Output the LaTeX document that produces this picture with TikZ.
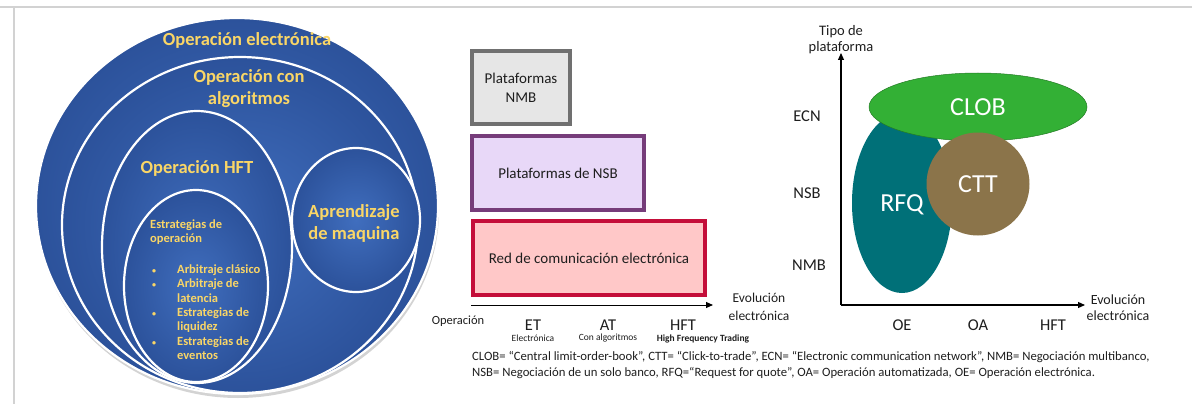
\documentclass[tikz,border=0pt]{standalone}
\usepackage{fontspec}
\setmainfont{Carlito}
\usetikzlibrary{shapes.geometric,shadows,arrows.meta}
\definecolor{blueD}{RGB}{44,82,155}
\definecolor{blueL}{RGB}{64,110,190}
\definecolor{yel}{RGB}{250,214,102}
\definecolor{grayB}{RGB}{112,112,112}
\definecolor{grayF}{RGB}{230,230,230}
\definecolor{purB}{RGB}{118,60,122}
\definecolor{purF}{RGB}{232,216,248}
\definecolor{redB}{RGB}{196,14,58}
\definecolor{redF}{RGB}{255,200,200}
\definecolor{teal2}{RGB}{0,112,120}
\definecolor{green2}{RGB}{51,176,53}
\definecolor{brown2}{RGB}{139,116,74}
\definecolor{txt}{RGB}{30,30,30}
\tikzset{
  bluell/.style={ellipse, draw=white, line width=2.2pt, inner sep=0pt,
     inner color=blueL, outer color=blueD},
  ytext/.style={text=yel, font=\bfseries\fontsize{18.5}{22}\selectfont, align=center, inner sep=0pt},
  platbox/.style={rectangle, line width=4pt, inner sep=0pt, align=center,
     font=\fontsize{15}{19}\selectfont, text=txt},
  lbl/.style={inner sep=0pt, align=center, text=txt},
  blob/.style={ellipse, inner sep=0pt, text=white, font=\fontsize{26}{30}\selectfont},
  axisarrow/.style={-{Triangle[length=7pt,width=6pt]}, line width=1.1pt, black},
}
\newcommand{\smbul}{\hspace{2pt}{\fontsize{8}{8}\selectfont\textbullet}}
\begin{document}
\begin{tikzpicture}[x=1pt,y=-1pt]
\useasboundingbox (0,0) rectangle (1192,404);
% frame lines
\coordinate (tl) at (0,7); \coordinate (tr) at (1192,7);
\coordinate (vl) at (14,8); \coordinate (vb) at (14,404);
\draw[line width=1.5pt, gray!35] (tl) -- (tr);
\draw[line width=1.5pt, gray!35] (vl) -- (vb);

% ---------- Left: nested ellipses ----------
\node[bluell, minimum width=402pt, minimum height=376pt,
      drop shadow={shadow xshift=1pt, shadow yshift=-4pt, opacity=0.35}] (eOE) at (237,206) {};
\node[bluell, minimum width=356pt, minimum height=336pt] (eOA) at (240,225) {};
\node[bluell, minimum width=190pt, minimum height=272pt] (eHFT) at (197,247) {};
\node[bluell, minimum width=144pt, minimum height=192pt] (eEst) at (196,286) {};
\node[bluell, minimum width=128pt, minimum height=144pt] (eAp) at (356,220) {};

\node[ytext] (tOE) at (247,40) {Operación electrónica};
\node[ytext] (tOA) at (249,89) {Operación con\\algoritmos};
\node[ytext] (tHFT) at (197,168) {Operación HFT};
\node[ytext] (tAp) at (354,223.5) {Aprendizaje\\de maquina};
\node[anchor=north west, inner sep=0pt, text=yel,
      font=\bfseries\fontsize{12.5}{14.3}\selectfont] (tEst) at (150,218) {%
\begin{tabular}{@{}p{27pt}@{}l@{}}
\multicolumn{2}{@{}l@{}}{Estrategias de}\\
\multicolumn{2}{@{}l@{}}{operación}\\[16.7pt]
\smbul & Arbitraje clásico\\
\smbul & Arbitraje de\\
 & latencia\\
\smbul & Estrategias de\\
 & liquidez\\
\smbul & Estrategias de\\
 & eventos
\end{tabular}};

% ---------- Middle: platforms ----------
\node[platbox, draw=grayB, fill=grayF, minimum width=98pt, minimum height=73pt] (bNMB) at (521,87.5) {Plataformas\\NMB};
\node[platbox, draw=purB, fill=purF, minimum width=172pt, minimum height=74pt] (bNSB) at (558,173) {Plataformas de NSB};
\node[platbox, draw=redB, fill=redF, minimum width=232pt, minimum height=74pt] (bECN) at (589,258) {Red de comunicación electrónica};

\coordinate (m0) at (471,305);
\coordinate (m1) at (713,305);
\draw[-{Triangle[length=7pt,width=6pt]}, line width=1pt] (m0) -- (m1);
\node[lbl, font=\fontsize{13.5}{18}\selectfont] (mEv) at (759,307) {Evolución\\electrónica};
\node[lbl, font=\fontsize{12.5}{14}\selectfont] (mOp) at (458,321) {Operación};
\node[lbl, font=\fontsize{16.5}{18}\selectfont] (mET) at (533,325) {ET};
\node[lbl, font=\fontsize{9.5}{10}\selectfont] (mETs) at (533,338.5) {Electrónica};
\node[lbl, font=\fontsize{16.5}{18}\selectfont] (mAT) at (608,325) {AT};
\node[lbl, font=\fontsize{9.5}{10}\selectfont] (mATs) at (608,338.5) {Con algoritmos};
\node[lbl, font=\fontsize{16.5}{18}\selectfont] (mHFT) at (683,325) {HFT};
\node[lbl, font=\bfseries\fontsize{9.5}{10}\selectfont] (mHFTs) at (703,338.5) {High Frequency Trading};

% ---------- Right: platform chart ----------
\coordinate (o) at (841,305);
\coordinate (yt) at (841,53);
\coordinate (xt) at (1085,305);
\node[blob, fill=teal2, minimum width=100pt, minimum height=180pt] (rfq) at (902,203) {};
\node[blob, fill=green2, draw=green2!70!black, line width=0.5pt, minimum width=218pt, minimum height=68pt] (clob) at (978,107) {CLOB};
\node[blob, fill=brown2, circle, minimum size=103pt] (ctt) at (978,184) {CTT};
\node[text=white, font=\fontsize{26}{30}\selectfont, inner sep=0pt] (rfqt) at (902,205) {RFQ};
\draw[axisarrow] (o) -- (yt);
\draw[axisarrow] (o) -- (xt);
\node[lbl, font=\fontsize{14.5}{16}\selectfont] (yl) at (841,40) {Tipo de\\plataforma};
\node[lbl, font=\fontsize{16.5}{18}\selectfont] (ecn) at (807,116) {ECN};
\node[lbl, font=\fontsize{16.5}{18}\selectfont] (nsb) at (807,193) {NSB};
\node[lbl, font=\fontsize{16.5}{18}\selectfont] (nmb) at (809,265) {NMB};
\node[lbl, font=\fontsize{16.5}{18}\selectfont] (xoe) at (902,325) {OE};
\node[lbl, font=\fontsize{16.5}{18}\selectfont] (xoa) at (978,325) {OA};
\node[lbl, font=\fontsize{16.5}{18}\selectfont] (xhft) at (1053,325) {HFT};
\node[lbl, font=\fontsize{14}{16}\selectfont] (xl) at (1118,308) {Evolución\\electrónica};

% ---------- Bottom legend ----------
\node[anchor=base west, inner sep=0pt, text=txt, font=\fontsize{12.7}{15}\selectfont] (leg1) at (472,360)
 {CLOB= “Central limit-order-book”, CTT= “Click-to-trade”, ECN= “Electronic communication network”, NMB= Negociación multibanco,};
\node[anchor=base west, inner sep=0pt, text=txt, font=\fontsize{12.7}{15}\selectfont] (leg2) at (472,376)
 {NSB= Negociación de un solo banco, RFQ=“Request for quote”, OA= Operación automatizada, OE= Operación electrónica.};
\end{tikzpicture}
\end{document}
